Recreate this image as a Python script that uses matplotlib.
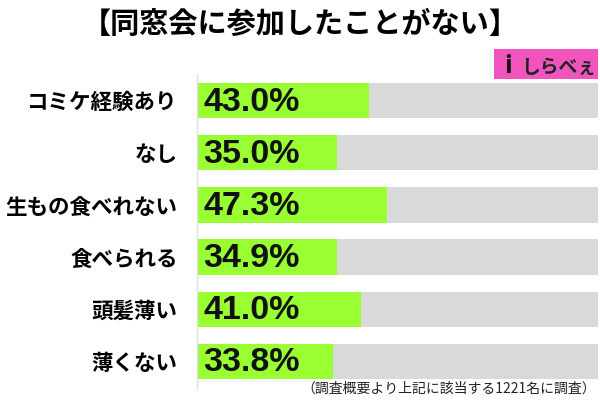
import matplotlib
matplotlib.use("Agg")
import matplotlib.pyplot as plt
from matplotlib.patches import Rectangle
from matplotlib import font_manager

plt.rcParams['font.family'] = ['Noto Sans CJK JP', 'DejaVu Sans']

categories = ["コミケ経験あり", "なし", "生もの食べれない", "食べられる", "頭髪薄い", "薄くない"]
values = [43.0, 35.0, 47.3, 34.9, 41.0, 33.8]
title = "【同窓会に参加したことがない】"
note = "（調査概要より上記に該当する1221名に調査）"

names = {f.name for f in font_manager.fontManager.ttflist}
if "Liberation Sans Narrow" in names:
    val_family, val_size = "Liberation Sans Narrow", 28
else:
    val_family, val_size = "Liberation Sans", 24.5

W, H = 600, 400
fig = plt.figure(figsize=(6, 4), dpi=100)
fig.patch.set_facecolor("white")

ax = fig.add_axes([197 / W, 1 - 388 / H, 401 / W, 314 / H])
y = list(range(len(categories)))
ax.barh(y, [100] * len(y), height=0.68, color="#d9d9d9", zorder=1)
ax.barh(y, values, height=0.68, color="#99ff33", zorder=2)
ax.set_xlim(0, 100)
ax.set_ylim(5.51, -0.51)
for s in ["top", "right", "bottom"]:
    ax.spines[s].set_visible(False)
ax.spines["left"].set_color("#e0e0e0")
ax.spines["left"].set_linewidth(1.0)
ax.set_xticks([])
ax.set_yticks(y)
ax.set_yticklabels(categories, fontsize=15.5, fontweight="bold")
ax.tick_params(axis="y", length=0, pad=14)

for yi, v in zip(y, values):
    ax.text(1.5, yi + 0.03, f"{v:.1f}%", va="center", ha="left",
            fontsize=val_size, fontweight="bold", family=val_family,
            color="#111111", zorder=3)

fig.text(0.5, 1 - 24 / H, title, ha="center", va="center",
         fontsize=21, fontweight="bold")
fig.text(596 / W, 1 - 389 / H, note, ha="right", va="center", fontsize=10,
         color="#222222")

# logo
fig.patches.append(Rectangle((494 / W, 1 - 79 / H), 104 / W, 30 / H,
                             transform=fig.transFigure, facecolor="#f155bd",
                             edgecolor="none"))
fig.text(521 / W, 1 - 67 / H, "しらべぇ", ha="left", va="center",
         fontsize=13.5, fontweight="bold", color="#222222")
fig.text(508 / W, 1 - 66 / H, "i", ha="center", va="center",
         fontsize=18, fontweight="bold", color="#111111")

fig.savefig("out.png", dpi=100, facecolor="white")
